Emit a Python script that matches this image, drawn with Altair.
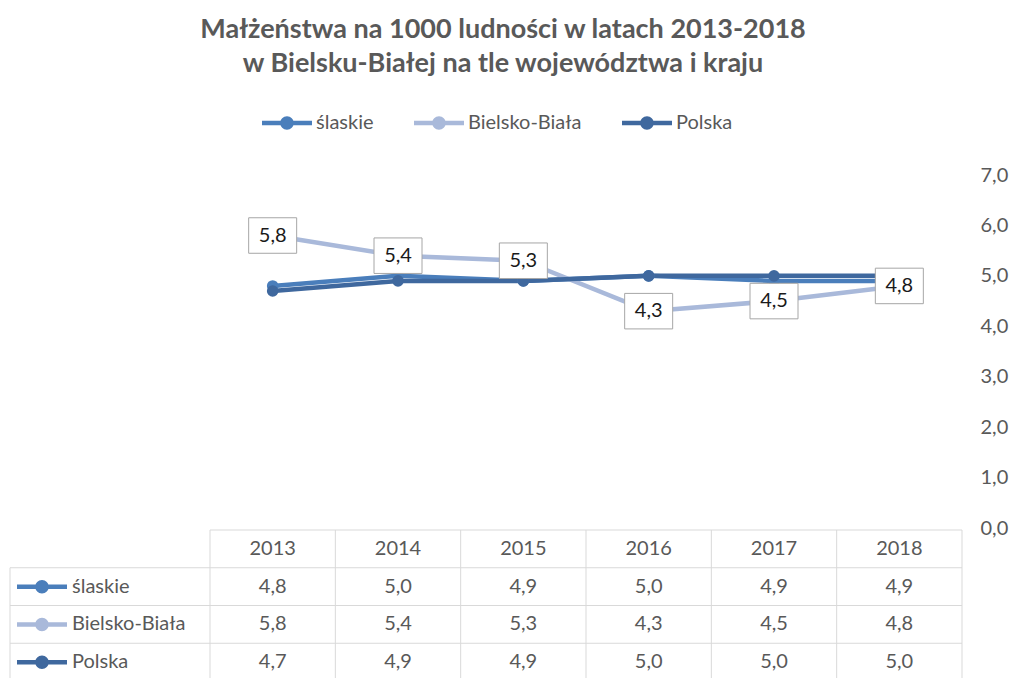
import altair as alt
import pandas as pd

# ---------------- data ----------------
years = ["2013", "2014", "2015", "2016", "2017", "2018"]
series_names = ["ślaskie", "Bielsko-Biała", "Polska"]
slaskie = [4.8, 5.0, 4.9, 5.0, 4.9, 4.9]
bielsko = [5.8, 5.4, 5.3, 4.3, 4.5, 4.8]
polska = [4.7, 4.9, 4.9, 5.0, 5.0, 5.0]
series_colors = ["#4a7ebb", "#a9b9da", "#3f689e"]
y_ticks = [0, 1, 2, 3, 4, 5, 6, 7]
title_lines = ["Małżeństwa na 1000 ludności w latach 2013-2018",
               "w Bielsku-Białej na tle województwa i kraju"]

records = []
for name, vals in zip(series_names, [slaskie, bielsko, polska]):
    for yr, v in zip(years, vals):
        records.append({"series": name, "row": name, "year": yr, "value": v})
df = pd.DataFrame(records)
hdr_df = pd.DataFrame({"year": years, "row": ["hdr"] * len(years)})
row_order = ["hdr"] + series_names
lab_df = pd.DataFrame({"series": series_names, "row": series_names})

FONT = "Lato"
GRAY = "#595959"
GRID = "#d9d9d9"
FMT = "replace(format(datum.value, '.1f'), '.', ',')"
LEG = ("M-1,-0.09H1V0.09H-1Z "
       "M-0.27,0A0.27,0.27 0 1,1 0.27,0A0.27,0.27 0 1,1 -0.27,0Z")
BOX = "M-1,-0.74H1V0.74H-1Z"

# ---------------- scales ----------------
xs = alt.Scale(type="band", domain=years, range=[200, 952], paddingInner=0, paddingOuter=0)
ys = alt.Scale(domain=[0, 7], range=[353, 0], nice=False, zero=False)
yrow = alt.Scale(type="band", domain=row_order, range=[355, 506], paddingInner=0, paddingOuter=0)
cs = alt.Scale(domain=series_names, range=series_colors)


def X(bp=0.5):
    return alt.X("year:N", scale=xs, axis=None, bandPosition=bp)


yaxis = alt.Axis(orient="right", values=y_ticks, labelExpr=FMT, domain=False, ticks=False,
                 tickSize=0, grid=False, labelFontSize=20, labelFont=FONT, labelColor=GRAY,
                 labelPadding=18, title=None)
Yv = alt.Y("value:Q", scale=ys, axis=yaxis)
Cn = alt.Color("series:N", scale=cs, legend=None)

base = alt.Chart(df)

line_layers = []
for s in series_names:
    line_layers.append(
        base.transform_filter(alt.datum.series == s)
        .mark_line(strokeWidth=4.5, strokeJoin="round", strokeCap="round")
        .encode(x=X(), y=Yv, color=Cn)
    )

point_layers = []
for s in ["ślaskie", "Polska"]:
    point_layers.append(
        base.transform_filter(alt.datum.series == s)
        .mark_circle(size=135, opacity=1)
        .encode(x=X(), y=Yv, color=Cn)
    )

bb = base.transform_filter(alt.datum.series == "Bielsko-Biała").transform_calculate(
    label=FMT)
boxes = bb.mark_point(shape=BOX, size=2304, filled=True, fill="white", stroke="#a6a6a6",
                      strokeWidth=1, opacity=1).encode(x=X(), y=Yv)
box_text = bb.mark_text(font=FONT, fontSize=20, color="#1a1a1a", baseline="middle",
                        align="center").encode(x=X(), y=Yv, text="label:N")

value_part = alt.layer(*line_layers, *point_layers, boxes, box_text)

# ---------------- data table ----------------
Yr = lambda bp=0.5: alt.Y("row:N", scale=yrow, axis=None, bandPosition=bp)

row_sym = alt.Chart(lab_df).mark_point(shape=LEG, filled=True, size=2500, opacity=1, strokeWidth=0).encode(
    x=alt.value(32), y=Yr(),
    color=alt.Color("series:N", scale=cs, legend=alt.Legend(
        orient="none", legendX=252, legendY=-77, direction="horizontal", title=None,
        symbolType=LEG, symbolSize=2500, symbolStrokeWidth=0, symbolOpacity=1,
        labelFont=FONT, labelFontSize=20, labelColor=GRAY, labelOffset=4,
        columnPadding=40, padding=0)))
hline_hdr = alt.Chart(pd.DataFrame({"row": ["hdr"]})).mark_rule(color=GRID, strokeWidth=1).encode(
    y=Yr(0), x=alt.value(200), x2=alt.value(952))
hline_rows = alt.Chart(pd.DataFrame({"row": series_names})).mark_rule(color=GRID, strokeWidth=1).encode(
    y=Yr(0), x=alt.value(0), x2=alt.value(952))
vlines = alt.Chart(pd.DataFrame({"year": years})).mark_rule(color=GRID, strokeWidth=1).encode(
    x=X(0), y=alt.value(355), y2=alt.value(700))
vline_right = alt.Chart(pd.DataFrame({"year": years[-1:]})).mark_rule(color=GRID, strokeWidth=1).encode(
    x=X(1), y=alt.value(355), y2=alt.value(700))
vline_left = alt.Chart(pd.DataFrame({"row": series_names[:1]})).mark_rule(color=GRID, strokeWidth=1).encode(
    x=alt.value(0), y=Yr(0), y2=alt.value(700))

hdr_text = alt.Chart(hdr_df).mark_text(font=FONT, fontSize=20, color=GRAY, baseline="middle").encode(
    x=X(), y=Yr(), text="year:N")
cell_text = alt.Chart(df).transform_calculate(label=FMT).mark_text(
    font=FONT, fontSize=20, color=GRAY, baseline="middle").encode(x=X(), y=Yr(), text="label:N")
row_text = alt.Chart(lab_df).mark_text(font=FONT, fontSize=20, color=GRAY, baseline="middle",
                                       align="left").encode(x=alt.value(62), y=Yr(), text="series:N")

table_part = alt.layer(row_sym, hline_hdr, hline_rows, vlines, vline_right, vline_left,
                       hdr_text, cell_text, row_text)

chart = alt.layer(table_part, value_part).resolve_scale(y="independent").properties(
    width=952, height=503,
    padding={"left": 2, "top": 167, "right": 47, "bottom": 0},
    autosize=alt.AutoSizeParams(type="none"),
    title=alt.Title(title_lines, fontSize=27, font=FONT, fontWeight="bold", color=GRAY,
                    anchor="middle", frame="group", offset=20, dx=17, lineHeight=34),
).configure_view(stroke=None)

chart.save("out.html", embed_options={"renderer": "svg", "actions": False})
